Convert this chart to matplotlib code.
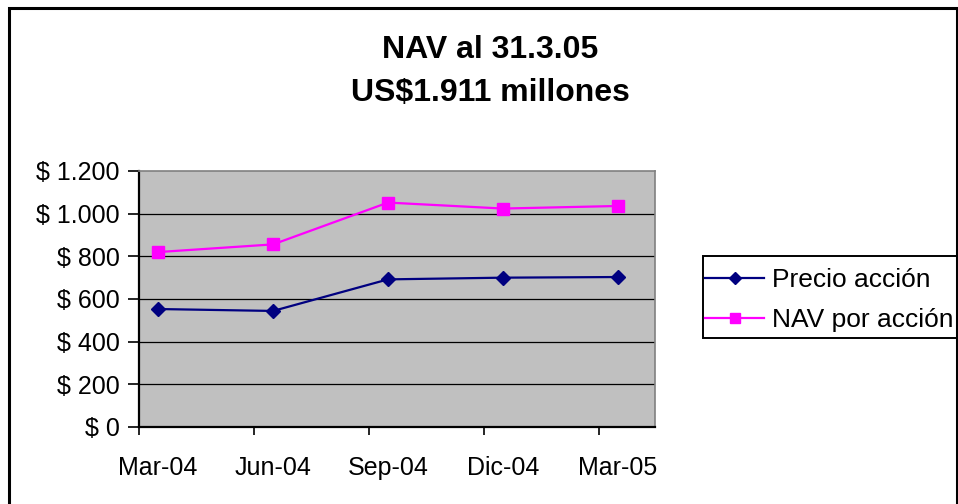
import matplotlib.pyplot as plt
from matplotlib.patches import Rectangle
import numpy as np

plt.rcParams['font.family'] = ['Liberation Sans', 'DejaVu Sans']

# months since Mar-04 (points sit mid-period on a monthly date axis)
months = [0.5, 3.5, 6.5, 9.5, 12.5]
labels = ['Mar-04', 'Jun-04', 'Sep-04', 'Dic-04', 'Mar-05']
precio = [553, 544, 692, 700, 703]
nav = [820, 856, 1052, 1024, 1036]
y_ticks = [0, 200, 400, 600, 800, 1000, 1200]
y_labels = ['$ 0', '$ 200', '$ 400', '$ 600', '$ 800', '$ 1.000', '$ 1.200']

W, H = 958, 504
fig = plt.figure(figsize=(W / 100, H / 100), dpi=100)
fig.patch.set_facecolor('white')

# outer chart border
fig.add_artist(Rectangle((9 / W, -0.05), 948 / W, 1.05 - 8 / H, transform=fig.transFigure,
                         fill=False, edgecolor='black', linewidth=2.2))

ax = fig.add_axes([139 / W, 1 - 427 / H, 516 / W, 256 / H])
ax.set_facecolor('#C0C0C0')

for v in y_ticks[1:-1]:
    ax.axhline(v, color='black', linewidth=0.9, zorder=1)

ax.plot(months, precio, color='#000080', linewidth=1.6, marker='D', markersize=7.5,
        label='Precio acción', zorder=3)
ax.plot(months, nav, color='#FF00FF', linewidth=1.6, marker='s', markersize=8,
        label='NAV por acción', zorder=3)

ax.set_xlim(0, 13.47)
ax.set_ylim(0, 1200)
ax.set_yticks(y_ticks)
ax.set_yticklabels(y_labels, fontsize=18)
ax.set_xticks([0, 3, 6, 9, 12])
ax.set_xticklabels([])
ax.set_xticks(months, minor=True)
ax.set_xticklabels(labels, minor=True, fontsize=18)
ax.tick_params(axis='x', which='minor', length=0, pad=21)
ax.tick_params(axis='x', which='major', length=6, width=1.2, direction='out')
ax.tick_params(axis='y', length=8, width=1.2, direction='out', pad=6)

for s in ['left', 'bottom']:
    ax.spines[s].set_color('black')
    ax.spines[s].set_linewidth(1.6)
for s in ['top', 'right']:
    ax.spines[s].set_color('#808080')
    ax.spines[s].set_linewidth(1.2)

fig.text(490 / W, 1 - 58 / H, 'NAV al 31.3.05', ha='center', va='baseline',
         fontsize=23, fontweight='bold')
fig.text(490 / W, 1 - 101 / H, 'US$1.911 millones', ha='center', va='baseline',
         fontsize=23, fontweight='bold')

# legend box drawn separately so its padding can match the original
fig.add_artist(Rectangle((703 / W, 1 - 338 / H), 254 / W, 82 / H, transform=fig.transFigure,
                         fill=False, edgecolor='black', linewidth=1.4))
leg = fig.legend(loc='upper left', bbox_to_anchor=(705 / W, 1 - 268 / H),
                 fontsize=19, frameon=False, borderpad=0,
                 handlelength=2.25, handletextpad=0.28, labelspacing=0.62,
                 borderaxespad=0, markerscale=0.85)

fig.savefig('out.png', dpi=100)
